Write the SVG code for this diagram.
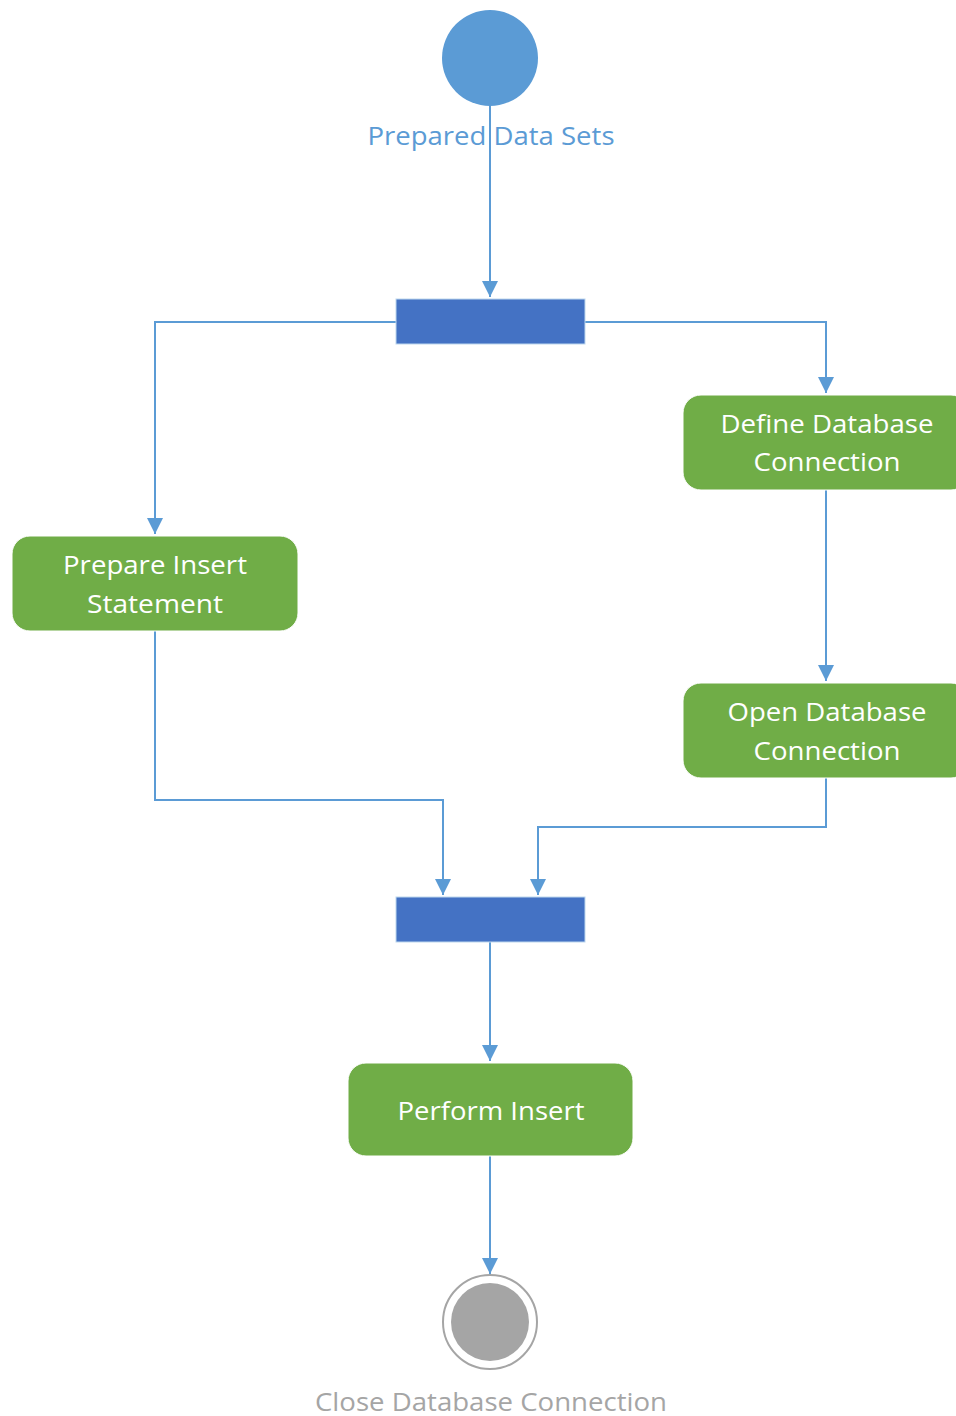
<svg xmlns="http://www.w3.org/2000/svg" width="956" height="1416" viewBox="0 0 956 1416">
<defs>
<style>
.conn{fill:none;stroke:#5B9BD5;stroke-width:2}
.act{fill:#70AD47;stroke:#FFFFFF;stroke-width:1}
.bar{fill:#4472C4;stroke:#BDD7EE;stroke-width:1}
.t{font-family:"Open Sans","Liberation Sans",sans-serif;font-size:25px;text-anchor:middle}
.w{fill:#FFFFFF}
</style>
<marker id="arr" viewBox="0 0 16 16" refX="16" refY="8" markerWidth="16" markerHeight="16" markerUnits="userSpaceOnUse" orient="auto">
<path d="M0,0 L16,8 L0,16 Z" fill="#5B9BD5"/>
</marker>
</defs>
<rect width="956" height="1416" fill="#FFFFFF"/>
<g id="connectors">
<path class="conn" d="M490,106 V297" marker-end="url(#arr)"/>
<path class="conn" d="M396,322 H155 V534" marker-end="url(#arr)"/>
<path class="conn" d="M585,322 H826 V393" marker-end="url(#arr)"/>
<path class="conn" d="M826,490 V681" marker-end="url(#arr)"/>
<path class="conn" d="M155,631 V800 H443 V895" marker-end="url(#arr)"/>
<path class="conn" d="M826,778 V827 H538 V895" marker-end="url(#arr)"/>
<path class="conn" d="M490,942 V1061" marker-end="url(#arr)"/>
<path class="conn" d="M490,1156 V1274" marker-end="url(#arr)"/>
</g>
<g id="start">
<circle cx="490" cy="58" r="48" fill="#5B9BD5"/>
<text class="t" x="491" y="145" fill="#5B9BD5" textLength="247" lengthAdjust="spacingAndGlyphs">Prepared Data Sets</text>
</g>
<g id="fork">
<rect class="bar" x="396" y="299" width="189" height="45"/>
</g>
<g id="define">
<rect class="act" x="683" y="395" width="286" height="95" rx="18"/>
<text class="t w" x="827" y="433" textLength="213" lengthAdjust="spacingAndGlyphs">Define Database</text>
<text class="t w" x="827" y="471" textLength="147" lengthAdjust="spacingAndGlyphs">Connection</text>
</g>
<g id="prepare">
<rect class="act" x="12" y="536" width="286" height="95" rx="18"/>
<text class="t w" x="155" y="574" textLength="184" lengthAdjust="spacingAndGlyphs">Prepare Insert</text>
<text class="t w" x="155" y="613" textLength="136" lengthAdjust="spacingAndGlyphs">Statement</text>
</g>
<g id="open">
<rect class="act" x="683" y="683" width="286" height="95" rx="18"/>
<text class="t w" x="827" y="721" textLength="199" lengthAdjust="spacingAndGlyphs">Open Database</text>
<text class="t w" x="827" y="760" textLength="147" lengthAdjust="spacingAndGlyphs">Connection</text>
</g>
<g id="join">
<rect class="bar" x="396" y="897" width="189" height="45"/>
</g>
<g id="perform">
<rect class="act" x="348" y="1063" width="285" height="93" rx="18"/>
<text class="t w" x="491" y="1120" textLength="187" lengthAdjust="spacingAndGlyphs">Perform Insert</text>
</g>
<g id="end">
<circle cx="490" cy="1322" r="47" fill="#FFFFFF" stroke="#A5A5A5" stroke-width="2"/>
<circle cx="490" cy="1322" r="39" fill="#A5A5A5"/>
<text class="t" x="491" y="1411" fill="#A5A5A5" textLength="352" lengthAdjust="spacingAndGlyphs">Close Database Connection</text>
</g>
</svg>
